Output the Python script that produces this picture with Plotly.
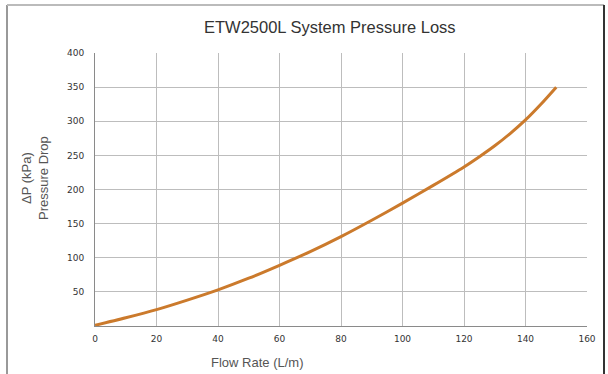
import plotly.graph_objects as go

flow = [0, 10, 20, 30, 40, 50, 60, 70, 80, 90, 100, 110, 120, 125, 130, 135, 140, 145, 150]
pressure = [1, 12, 24, 38, 53, 70, 89, 109, 131, 155, 180, 206, 233, 248, 264, 282, 302, 325, 350]
x_ticks = [0, 20, 40, 60, 80, 100, 120, 140, 160]
y_ticks = [50, 100, 150, 200, 250, 300, 350, 400]

W, H = 608, 374
L, R, T, B = 95, 21, 53, 48
pw, ph = W - L - R, H - T - B

def px(x):
    return (x - L) / pw

def py(y):
    return (H - B - y) / ph

fig = go.Figure()
fig.add_trace(go.Scatter(x=flow, y=pressure, mode="lines",
                         line=dict(color="#CB7A2C", width=3, shape="spline", smoothing=0.8),
                         hoverinfo="skip", showlegend=False))

fig.update_layout(
    width=W, height=H, margin=dict(l=L, r=R, t=T, b=B, autoexpand=False),
    paper_bgcolor="white", plot_bgcolor="white",
    xaxis=dict(range=[0, 160], tickvals=x_ticks, showgrid=True, gridcolor="#BDBDBD", gridwidth=1,
               showline=True, linecolor="#8A8A8A", linewidth=1, zeroline=False, ticks="",
               tickfont=dict(family="DejaVu Sans", size=9, color="#333"), ticklabelstandoff=4,
               automargin=False, fixedrange=True),
    yaxis=dict(range=[0, 400], tickvals=y_ticks, showgrid=True, gridcolor="#BDBDBD", gridwidth=1,
               showline=True, linecolor="#8A8A8A", linewidth=1, zeroline=False, ticks="",
               tickfont=dict(family="DejaVu Sans", size=9, color="#333"), ticklabelstandoff=8,
               automargin=False, fixedrange=True),
    font=dict(family="Liberation Sans"),
)

ann = [
    dict(text="ETW2500L System Pressure Loss", x=px(330), y=py(27), size=16.5, color="#333"),
    dict(text="Flow Rate (L/m)", x=px(257), y=py(362), size=13, color="#555"),
]
for a in ann:
    fig.add_annotation(text=a["text"], x=a["x"], y=a["y"], xref="paper", yref="paper",
                       showarrow=False, xanchor="center", yanchor="middle",
                       font=dict(family="Liberation Sans", size=a["size"], color=a["color"]))
fig.add_annotation(text="ΔP (kPa)<br>Pressure Drop", x=px(35), y=py(178), xref="paper", yref="paper",
                   showarrow=False, textangle=-90, xanchor="center", yanchor="middle",
                   font=dict(family="Liberation Sans", size=13, color="#555"))

# frame around the chart
fig.add_shape(type="line", xref="paper", yref="paper", x0=px(7), x1=px(7), y0=py(5), y1=py(374),
              line=dict(color="#999999", width=2))
fig.add_shape(type="line", xref="paper", yref="paper", x0=px(7), x1=px(604), y0=py(5), y1=py(5),
              line=dict(color="#BBBBBB", width=2))
fig.add_shape(type="line", xref="paper", yref="paper", x0=px(604), x1=px(604), y0=py(5), y1=py(374),
              line=dict(color="#333333", width=2))

fig.write_html("out.html", config={"displayModeBar": False, "staticPlot": True},
               post_script="document.body.style.margin='0';document.body.style.overflow='hidden';")
